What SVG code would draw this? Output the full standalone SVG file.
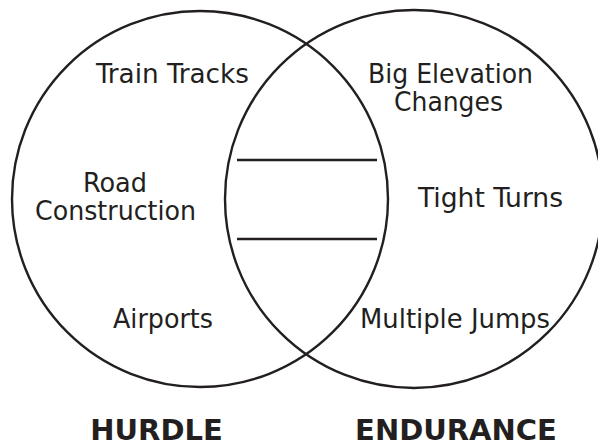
<svg xmlns="http://www.w3.org/2000/svg" width="598" height="446" viewBox="0 0 598 446">
<style>
.c{fill:none;stroke:#231f20;stroke-width:2.4}
.l{stroke:#231f20;stroke-width:2.4}
.t{font-family:"DejaVu Sans Condensed","DejaVu Sans",sans-serif;font-stretch:condensed;font-size:27px;fill:#231f20;text-anchor:middle}
.h{font-family:"DejaVu Sans","Liberation Sans",sans-serif;font-weight:bold;font-size:29px;fill:#231f20;text-anchor:middle}
</style>
<rect width="598" height="446" fill="#fff"/>
<g id="hurdle">
<circle class="c" cx="200" cy="199" r="188"/>
<text class="t" x="172.5" y="83" textLength="153" lengthAdjust="spacingAndGlyphs">Train Tracks</text>
<text class="t" x="115" y="192" textLength="64" lengthAdjust="spacingAndGlyphs">Road</text>
<text class="t" x="115.5" y="220" textLength="161" lengthAdjust="spacingAndGlyphs">Construction</text>
<text class="t" x="163" y="328" textLength="100" lengthAdjust="spacingAndGlyphs">Airports</text>
<text class="h" x="156.5" y="440">HURDLE</text>
</g>
<g id="endurance">
<circle class="c" cx="414" cy="199" r="189"/>
<text class="t" x="450.5" y="83" textLength="165" lengthAdjust="spacingAndGlyphs">Big Elevation</text>
<text class="t" x="448.5" y="111" textLength="109" lengthAdjust="spacingAndGlyphs">Changes</text>
<text class="t" x="490.5" y="207" textLength="145" lengthAdjust="spacingAndGlyphs">Tight Turns</text>
<text class="t" x="455" y="328" textLength="190" lengthAdjust="spacingAndGlyphs">Multiple Jumps</text>
<text class="h" x="456" y="440">ENDURANCE</text>
</g>
<g id="connectors">
<line class="l" x1="237" y1="160" x2="377" y2="160"/>
<line class="l" x1="237" y1="239" x2="377" y2="239"/>
</g>
</svg>
